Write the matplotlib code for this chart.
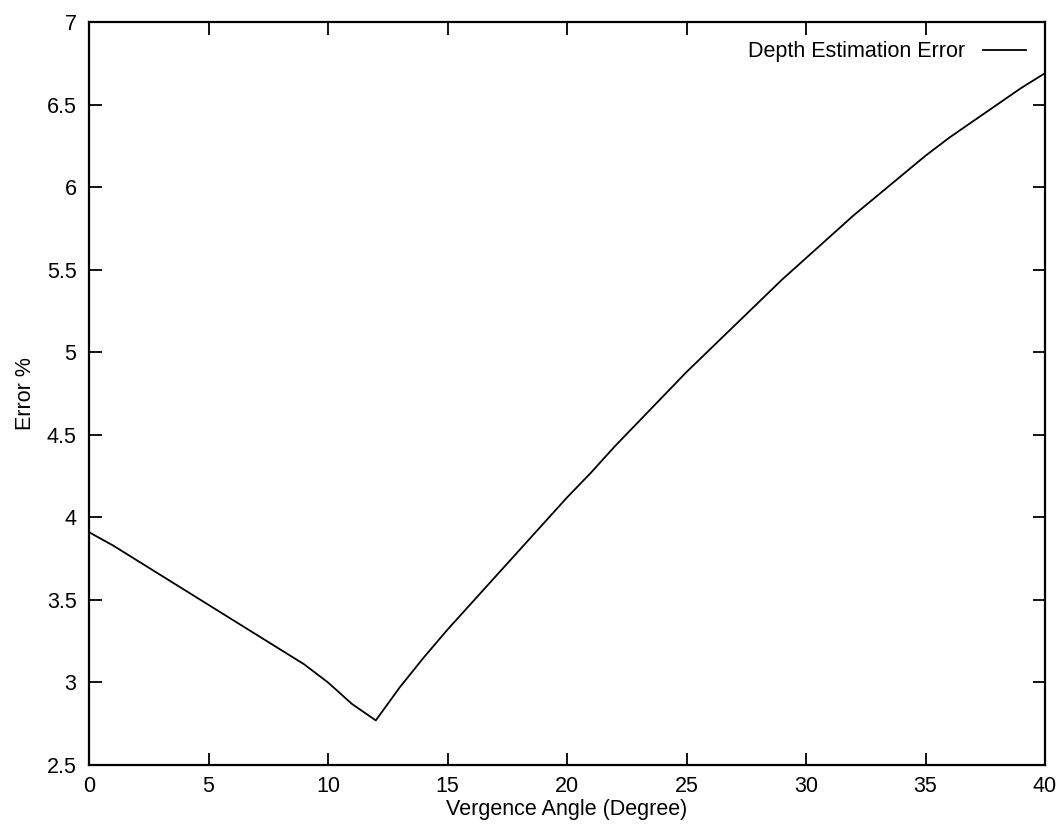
import matplotlib
matplotlib.use("Agg")
import matplotlib.pyplot as plt

angle = list(range(0, 41))
error = [3.91, 3.83, 3.74, 3.65, 3.56, 3.47, 3.38, 3.29, 3.20, 3.11,
         3.00, 2.87, 2.77, 2.97, 3.15, 3.32, 3.48, 3.64, 3.80, 3.96,
         4.12, 4.27, 4.43, 4.58, 4.73, 4.88, 5.02, 5.16, 5.30, 5.44,
         5.57, 5.70, 5.83, 5.95, 6.07, 6.19, 6.30, 6.40, 6.50, 6.60, 6.69]
series_label = "Depth Estimation Error"
xticks = [0, 5, 10, 15, 20, 25, 30, 35, 40]
yticks = [2.5, 3, 3.5, 4, 4.5, 5, 5.5, 6, 6.5, 7]
ytick_labels = ["2.5", "3", "3.5", "4", "4.5", "5", "5.5", "6", "6.5", "7"]

plt.rcParams['font.family'] = ['Liberation Sans', 'DejaVu Sans']

fig = plt.figure(figsize=(10.57, 8.24), dpi=100)
ax = fig.add_axes([89/1057, 1-765/824, (1045-89)/1057, (765-22)/824])

ax.plot(angle, error, color='black', linewidth=1.3, label=series_label)
ax.set_xlim(0, 40)
ax.set_ylim(2.5, 7)
ax.set_xticks(xticks)
ax.set_xticklabels([str(t) for t in xticks])
ax.set_yticks(yticks)
ax.set_yticklabels(ytick_labels)
ax.tick_params(direction='in', length=9, width=1.3, top=True, right=True,
               labelsize=15.5, colors='black')
ax.tick_params(axis='x', pad=8)
ax.tick_params(axis='y', pad=9)
for s in ax.spines.values():
    s.set_linewidth(1.6)

ax.set_xlabel("Vergence Angle (Degree)", fontsize=15.5, labelpad=1)
ax.set_ylabel("Error %", fontsize=15.5, labelpad=8)

ax.legend(loc='upper right', frameon=False, markerfirst=False, fontsize=15.5,
          handlelength=2.0, borderaxespad=0.5, handletextpad=0.8)

fig.savefig("out.png", dpi=100, facecolor='white')
